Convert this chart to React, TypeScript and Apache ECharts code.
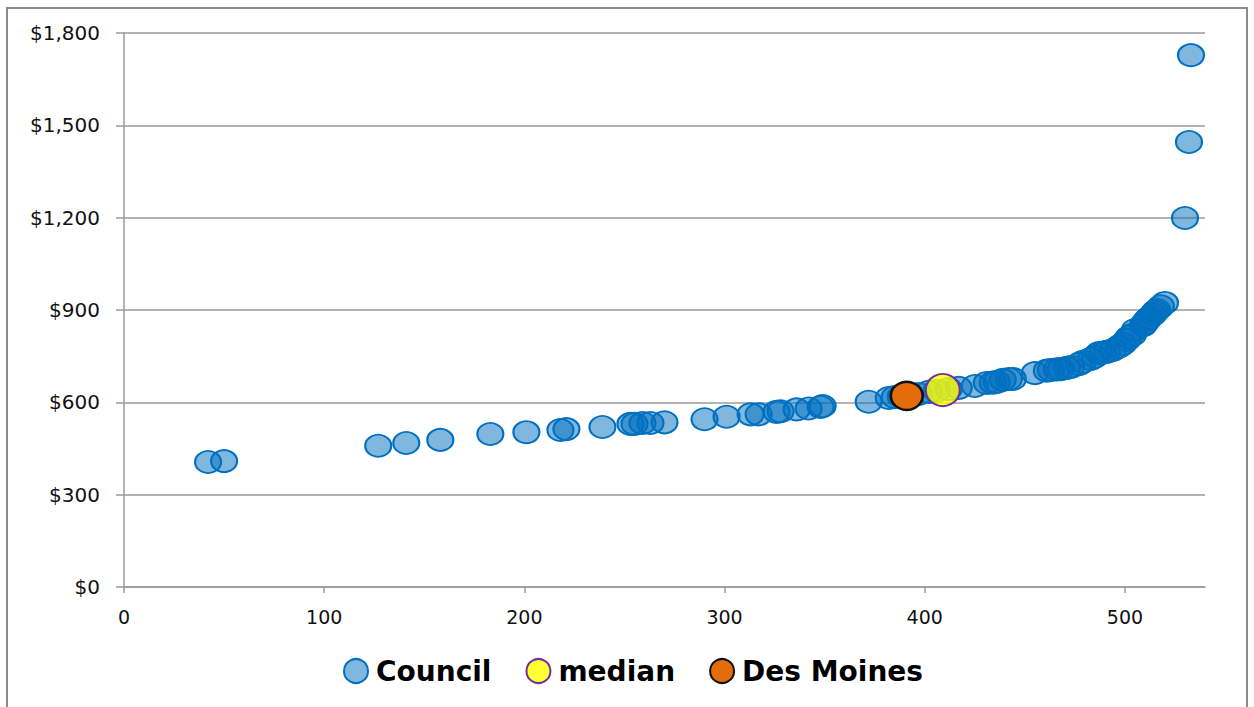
import React, { useEffect, useRef } from "react";
import * as echarts from "echarts";

// Council points: [x, monthly cost in dollars]
const councilPoints: [number, number][] = [
  [42, 406], [50, 409], [127, 459], [141, 468], [158, 478], [183, 497],
  [201, 503], [218, 510], [221, 513], [239, 520], [253, 530], [255, 530],
  [259, 533], [263, 533], [270, 535], [290, 545], [301, 553], [313, 561],
  [317, 561], [326, 569], [328, 571], [336, 577], [342, 580], [348, 585],
  [349, 588], [372, 602], [382, 614], [385, 617], [388, 619], [397, 627],
  [402, 634], [406, 637], [412, 643], [417, 647], [425, 653], [431, 663],
  [434, 664], [436, 666], [439, 673], [442, 676], [444, 676], [455, 695],
  [461, 703], [463, 705], [466, 707], [468, 708], [471, 712], [473, 715],
  [477, 724], [479, 732], [483, 741], [485, 748], [487, 760], [489, 762],
  [491, 764], [494, 770], [497, 781], [499, 790], [501, 803], [502, 812],
  [504, 820], [505, 835], [509, 850], [510, 858], [511, 867], [512, 874],
  [514, 885], [515, 894], [516, 900], [518, 912], [520, 923], [530, 1199],
  [532, 1446], [533, 1728],
];
const medianPoint: [number, number][] = [[409, 640]];
const desMoinesPoint: [number, number][] = [[391, 621]];

const xTicks = [0, 100, 200, 300, 400, 500];
const seriesNames = ["Council", "median", "Des Moines"];

const AXIS_FONT = "'DejaVu Sans', sans-serif";

export default function App() {
  const ref = useRef<HTMLDivElement>(null);

  useEffect(() => {
    document.body.style.margin = "0";
    if (!ref.current) return;
    const chart = echarts.init(ref.current, null, { renderer: "svg" });
    chart.setOption({
      animation: false,
      backgroundColor: "#ffffff",
      graphic: [
        {
          type: "rect",
          shape: { x: 7, y: 8, width: 1240, height: 720 },
          style: { fill: "none", stroke: "#8a8a8a", lineWidth: 2 },
          silent: true,
        },
      ],
      grid: { left: 124, right: 49, top: 33, bottom: 120 },
      legend: {
        data: seriesNames,
        bottom: 17,
        left: 338,
        itemWidth: 24,
        itemHeight: 24,
        itemGap: 34,
        icon: "circle",
        textStyle: {
          fontFamily: AXIS_FONT,
          fontWeight: "bold",
          fontSize: 28,
          color: "#000",
          padding: [0, 0, 0, 3],
        },
      },
      xAxis: {
        type: "value",
        min: 0,
        max: 540,
        interval: 100,
        axisLine: { show: true, lineStyle: { color: "#9a9a9a", width: 1.5 } },
        axisTick: {
          show: true,
          length: 6,
          customValues: xTicks,
          lineStyle: { color: "#9a9a9a", width: 1.5 },
        },
        splitLine: { show: false },
        axisLabel: {
          customValues: xTicks,
          margin: 20,
          fontFamily: AXIS_FONT,
          fontSize: 19,
          color: "#111",
        },
      },
      yAxis: {
        type: "value",
        min: 0,
        max: 1800,
        interval: 300,
        axisLine: { show: true, lineStyle: { color: "#9a9a9a", width: 1.5 } },
        axisTick: { show: true, length: 8, lineStyle: { color: "#9a9a9a", width: 1.5 } },
        splitLine: { show: true, lineStyle: { color: "#9a9a9a", width: 1.5 } },
        axisLabel: {
          margin: 24,
          fontFamily: AXIS_FONT,
          fontSize: 20,
          color: "#111",
          formatter: (v: number) => "$" + v.toLocaleString("en-US"),
        },
      },
      series: [
        {
          name: "Council",
          type: "scatter",
          data: councilPoints,
          symbol: "circle",
          symbolSize: [26, 22],
          itemStyle: {
            color: "rgba(0,112,192,0.5)",
            borderColor: "#0070C0",
            borderWidth: 2,
            opacity: 1,
          },
        },
        {
          name: "median",
          type: "scatter",
          data: medianPoint,
          symbol: "circle",
          symbolSize: [34, 32],
          z: 3,
          itemStyle: {
            color: "rgba(255,255,0,0.8)",
            borderColor: "#7030A0",
            borderWidth: 2,
            opacity: 1,
          },
        },
        {
          name: "Des Moines",
          type: "scatter",
          data: desMoinesPoint,
          symbol: "circle",
          symbolSize: [32, 28],
          z: 4,
          itemStyle: {
            color: "#E46C0A",
            borderColor: "#111",
            borderWidth: 2.5,
            opacity: 1,
          },
        },
      ],
    });
    return () => chart.dispose();
  }, []);

  return <div ref={ref} style={{ width: 1254, height: 707 }} />;
}
